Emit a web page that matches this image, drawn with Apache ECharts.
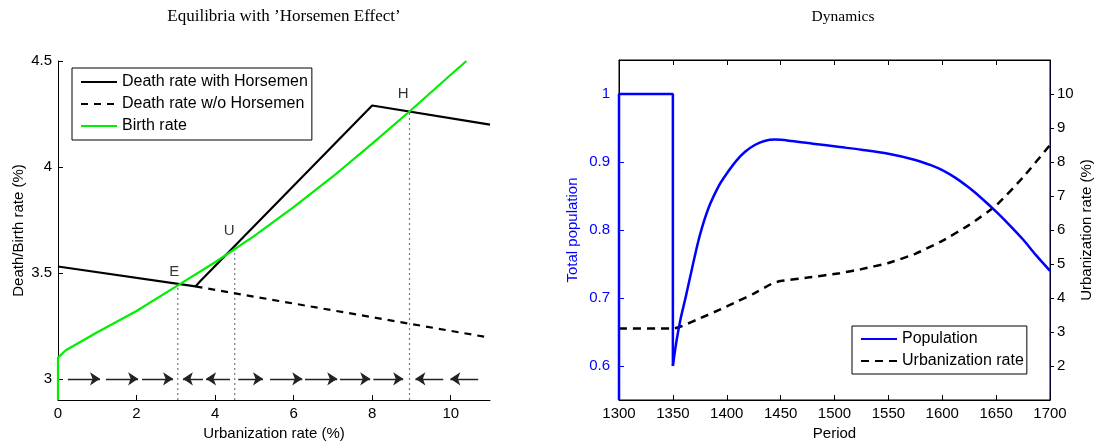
<!DOCTYPE html>
<html><head><meta charset="utf-8">
<script src="https://cdn.jsdelivr.net/npm/echarts@6/dist/echarts.min.js"></script>
<style>html,body{margin:0;padding:0;background:#fff}#c{width:1097px;height:447px}</style>
</head><body><div id="c"></div>
<script>
// ---- Left panel data ----
const deathWith = [[0,3.53],[3.5,3.436],[3.62,3.46],[8,4.29],[11,4.20]];
const deathWithout = [[3.5,3.436],[11,3.194]];
const birthRate = [[0,2.9],[0,3.1],[0.2,3.135],[1,3.22],[2,3.32],[3,3.435],[4,3.55],[5,3.675],[6,3.81],[7,3.955],[8,4.11],[9,4.27],[10,4.435],[10.4,4.5]];
const eqX = [3.05, 4.5, 8.95];
const eqY = [3.445, 3.615, 4.265];
const eqNames = ['E','U','H'];
const eqLabelPos = [[2.96,3.507],[4.36,3.697],[8.79,4.346]];
const arrowStart = [0.25,1.22,2.14,3.69,4.38,4.59,5.4,6.29,7.18,8.03,9.81,10.7];
const arrowEnd   = [1.07,2.04,2.93,3.18,3.77,5.22,6.22,7.11,7.95,8.79,9.10,9.99];
const arrowY = 3;
const leftXTicks = [0,2,4,6,8,10];
const leftYTicks = [3,3.5,4,4.5];
// ---- Right panel data ----
const populationShock = [[1300,0.55],[1300,1],[1350,1],[1350,0.6]];
const populationRecovery = [[1350,0.6],[1353,0.633],[1357,0.668],[1362,0.702],[1368,0.745],[1375,0.792],[1383,0.832],[1393,0.866],[1400,0.883],[1409,0.902],[1417,0.915],[1426,0.925],[1435,0.931],[1445,0.933],[1460,0.931],[1480,0.927],[1505,0.922],[1525,0.918],[1550,0.912],[1575,0.903],[1590,0.895],[1600,0.888],[1612,0.877],[1625,0.862],[1637,0.846],[1650,0.827],[1662,0.808],[1675,0.786],[1687,0.763],[1700,0.74]];
const urbanization = [[1300,3.1],[1350,3.1],[1358,3.17],[1375,3.4],[1393,3.65],[1410,3.9],[1425,4.13],[1443,4.44],[1450,4.5],[1475,4.6],[1505,4.73],[1525,4.85],[1550,5.03],[1575,5.3],[1600,5.68],[1625,6.15],[1650,6.72],[1675,7.55],[1700,8.5]];
const popTicks = [0.6,0.7,0.8,0.9,1];
const urbTicks = [2,3,4,5,6,7,8,9,10];

const FONT = "'Liberation Sans', Arial, sans-serif";
const FS = 15;
const txt = {fontFamily: FONT, fontSize: FS, color: '#000'};
const SERIF = "'Liberation Serif', 'Times New Roman', serif";

const eqLines = eqX.map((x,i)=>({
  type:'line', xAxisIndex:0, yAxisIndex:0, data:[[x,2.9],[x,eqY[i]]], symbol:'none', silent:true,
  lineStyle:{color:'#777', width:1.2, type:[2,3]}, z:1
}));

const legendCommon = {
  orient:'vertical', itemWidth:36, itemHeight:10, itemGap:6,
  borderColor:'#000', borderWidth:1, backgroundColor:'#fff',
  itemStyle:{color:'rgba(0,0,0,0)', borderColor:'rgba(0,0,0,0)', borderWidth:0},
  textStyle:{fontFamily:FONT, fontSize:16, color:'#000'}
};

const option = {
  animation:false,
  title:[
    {text:'Equilibria with \u2019Horsemen Effect\u2019', left:279, top:3, textAlign:'center',
     textStyle:{fontFamily:SERIF, fontSize:17, fontWeight:'normal', color:'#000'}},
    {text:'Dynamics', left:838, top:4, textAlign:'center',
     textStyle:{fontFamily:SERIF, fontSize:15.5, fontWeight:'normal', color:'#000'}}
  ],
  grid:[
    {left:58, top:61, width:432, height:339},
    {left:619, top:60, width:431, height:340, show:true, borderColor:'#000', borderWidth:1}
  ],
  legend:[
    {...legendCommon, left:72, top:68, padding:[6,4,6,8],
     data:['Death rate with Horsemen','Death rate w/o Horsemen','Birth rate']},
    {...legendCommon, left:852, top:326, padding:[5,3,5,8],
     data:['Population','Urbanization rate']}
  ],
  xAxis:[
    {gridIndex:0, type:'value', min:0, max:11, name:'Urbanization rate (%)', nameLocation:'middle', nameGap:24,
     nameTextStyle:txt, axisLine:{lineStyle:{color:'#000', width:1}},
     axisTick:{inside:true, length:5, customValues:leftXTicks, lineStyle:{color:'#000'}},
     axisLabel:{...txt, margin:6, customValues:leftXTicks}, splitLine:{show:false}},
    {gridIndex:1, type:'value', min:1300, max:1700, interval:50, name:'Period', nameLocation:'middle', nameGap:25,
     nameTextStyle:txt, axisLine:{lineStyle:{color:'#000'}},
     axisTick:{inside:true, length:5, lineStyle:{color:'#000'}},
     axisLabel:{...txt, margin:6, formatter:v=>String(v)}, splitLine:{show:false}},
    {gridIndex:1, type:'value', min:1300, max:1700, interval:50, position:'top',
     axisLine:{lineStyle:{color:'#000'}}, axisTick:{inside:true, length:5, lineStyle:{color:'#000'}},
     axisLabel:{show:false}, splitLine:{show:false}}
  ],
  yAxis:[
    {gridIndex:0, type:'value', min:2.9, max:4.5, name:'Death/Birth rate (%)', nameLocation:'middle', nameGap:32,
     nameTextStyle:txt, axisLine:{show:true, lineStyle:{color:'#000'}},
     axisTick:{show:true, inside:true, length:5, customValues:leftYTicks, lineStyle:{color:'#000'}},
     axisLabel:{...txt, margin:6, customValues:leftYTicks}, splitLine:{show:false}},
    {gridIndex:1, type:'value', min:0.55, max:1.05, name:'Total population', nameLocation:'middle', nameGap:39,
     nameTextStyle:{...txt, color:'#0000ff'}, axisLine:{show:true, lineStyle:{color:'#000'}},
     axisTick:{show:true, inside:true, length:5, customValues:popTicks, lineStyle:{color:'#0000ff'}},
     axisLabel:{...txt, color:'#0000ff', margin:9, customValues:popTicks, formatter:v=>String(+(+v).toFixed(2))}, splitLine:{show:false}},
    {gridIndex:1, type:'value', min:1, max:11, position:'right', name:'Urbanization rate (%)', nameLocation:'middle', nameGap:29,
     nameRotate:90, nameTextStyle:txt, axisLine:{show:true, lineStyle:{color:'#000033'}},
     axisTick:{show:true, inside:false, length:4, customValues:urbTicks, lineStyle:{color:'#000'}},
     axisLabel:{...txt, margin:7, customValues:urbTicks}, splitLine:{show:false}}
  ],
  series:[
    ...eqLines,
    {type:'lines', coordinateSystem:'cartesian2d', xAxisIndex:0, yAxisIndex:0, silent:true,
     data: arrowStart.map((s,i)=>({coords:[[s,arrowY],[arrowEnd[i],arrowY]]})),
     lineStyle:{color:'#222', width:1.4, opacity:1}, symbol:['none','arrow'], symbolSize:[0,10], z:3},
    {name:'Death rate w/o Horsemen', type:'line', xAxisIndex:0, yAxisIndex:0, data:deathWithout, symbol:'none',
     lineStyle:{color:'#000', width:2.2, type:[7,6]}, itemStyle:{color:'#000'}, z:3},
    {name:'Death rate with Horsemen', type:'line', xAxisIndex:0, yAxisIndex:0, data:deathWith, symbol:'none',
     lineStyle:{color:'#000', width:2.2}, itemStyle:{color:'#000'}, z:4},
    {name:'Birth rate', type:'line', xAxisIndex:0, yAxisIndex:0, data:birthRate, symbol:'none',
     lineStyle:{color:'#00ee00', width:2.2}, itemStyle:{color:'#00ee00'}, z:5},
    {type:'scatter', xAxisIndex:0, yAxisIndex:0, symbolSize:0, silent:true,
     data: eqLabelPos.map((p,i)=>({value:p, name:eqNames[i]})),
     label:{show:true, position:'inside', formatter:p=>p.name, fontFamily:FONT, fontSize:FS, color:'#000'}},
    {type:'line', xAxisIndex:1, yAxisIndex:1, data:populationShock, symbol:'none', silent:true,
     lineStyle:{color:'#0000ff', width:2.5}, z:4},
    {name:'Population', type:'line', xAxisIndex:1, yAxisIndex:1, data:populationRecovery, symbol:'none', smooth:0.3,
     lineStyle:{color:'#0000ff', width:2.5}, itemStyle:{color:'#0000ff'}, z:4},
    {name:'Urbanization rate', type:'line', xAxisIndex:1, yAxisIndex:2, data:urbanization, symbol:'none', smooth:0.15,
     lineStyle:{color:'#000', width:2.5, type:[8,6]}, itemStyle:{color:'#000'}, z:3}
  ]
};
const chart = echarts.init(document.getElementById('c'), null, {renderer:'canvas'});
chart.setOption(option);
</script>
</body></html>
